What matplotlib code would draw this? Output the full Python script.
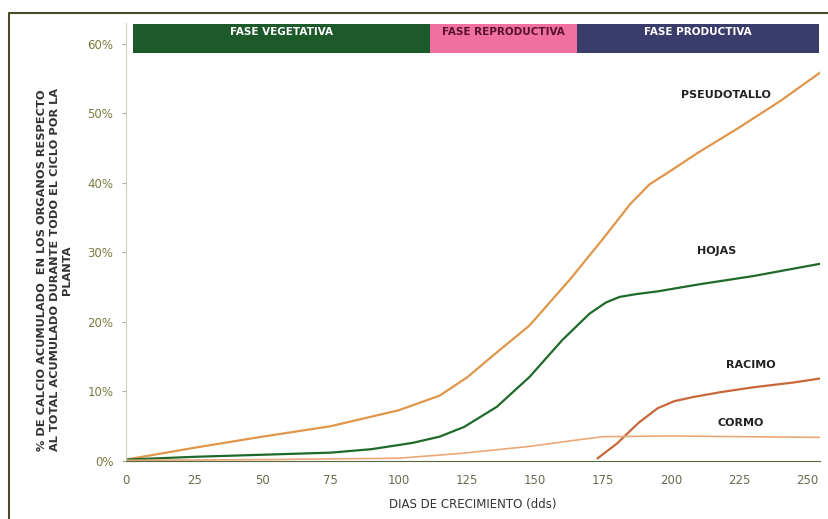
import matplotlib
matplotlib.use('Agg')
import matplotlib.pyplot as plt
from matplotlib.patches import Rectangle
from matplotlib.lines import Line2D

# days of growth (dds) and % calcium accumulated per organ
dias_pseudo = [0, 25, 50, 75, 100, 115, 125, 135, 148, 163, 175, 185, 192, 198, 210, 225, 240, 255]
pseudotallo = [0.2, 1.9, 3.5, 5.0, 7.3, 9.4, 12.0, 15.3, 19.5, 26.2, 32.0, 37.0, 39.8, 41.3, 44.4, 48.0, 51.8, 56.0]

dias_hojas = [0, 25, 50, 75, 90, 105, 115, 124, 136, 148, 160, 170, 176, 181, 187, 195, 210, 230, 255]
hojas = [0.2, 0.6, 0.9, 1.2, 1.7, 2.6, 3.5, 4.9, 7.8, 12.1, 17.4, 21.2, 22.8, 23.6, 24.0, 24.4, 25.4, 26.6, 28.4]

dias_racimo = [173, 180, 188, 195, 201, 208, 218, 230, 245, 255]
racimo = [0.4, 2.5, 5.5, 7.6, 8.6, 9.2, 9.9, 10.6, 11.3, 11.9]

dias_cormo = [0, 50, 100, 123, 148, 165, 175, 200, 225, 255]
cormo = [0.1, 0.2, 0.4, 1.1, 2.1, 3.0, 3.5, 3.6, 3.5, 3.4]

fases = ['FASE VEGETATIVA', 'FASE REPRODUCTIVA', 'FASE PRODUCTIVA']
fase_lims = [2.5, 111.5, 165.5, 254.0]
fase_colores = ['#1d5a2a', '#f070a0', '#3a3c6c']
fase_texto = ['white', '#5a1030', 'white']

xticks = [0, 25, 50, 75, 100, 125, 150, 175, 200, 225, 250]
yticks = [0, 10, 20, 30, 40, 50, 60]

fig = plt.figure(figsize=(8.29, 5.19), dpi=100)
ax = fig.add_axes([126/829, 58/519, (820-126)/829, (461-23)/519])

ax.plot(dias_pseudo, pseudotallo, color='#e0964a', lw=1.6)
ax.plot(dias_hojas, hojas, color='#1f6a2a', lw=1.6)
ax.plot(dias_racimo, racimo, color='#c8683a', lw=1.6)
ax.plot(dias_cormo, cormo, color='#e8a878', lw=1.2)

# phase band on top
for i in range(3):
    ax.add_patch(Rectangle((fase_lims[i], 58.7), fase_lims[i+1]-fase_lims[i], 4.1,
                           color=fase_colores[i], lw=0, clip_on=False))
    ax.text((fase_lims[i]+fase_lims[i+1])/2, 61.7, fases[i], ha='center', va='center',
            fontsize=7.5, fontweight='bold', color=fase_texto[i])

ax.set_xlim(0, 254.5)
ax.set_ylim(0, 63)
ax.set_xticks(xticks)
ax.set_yticks(yticks)
ax.set_yticklabels([f'{v}%' for v in yticks])
ax.tick_params(axis='x', length=0, pad=9, labelsize=8.5, labelcolor='#6a6a50')
ax.tick_params(axis='y', length=3, color='#aaaaaa', pad=6, labelsize=8.5, labelcolor='#7a7a40')
for s in ['top', 'right']:
    ax.spines[s].set_visible(False)
ax.spines['left'].set_color('#cfcfb0')
ax.spines['bottom'].set_color('#5a6a40')

etiquetas = [('PSEUDOTALLO', 220, 52.7), ('HOJAS', 216.5, 30.2), ('RACIMO', 229, 13.8), ('CORMO', 225.5, 5.5)]
for txt, x, y in etiquetas:
    ax.text(x, y, txt, ha='center', va='center', fontsize=8, fontweight='bold', color='#222222')

ax.set_xlabel('DIAS DE CRECIMIENTO (dds)', fontsize=8.5, color='#333333', labelpad=8)
fig.text(0.066, 0.48, '% DE CALCIO ACUMULADO  EN LOS ORGANOS RESPECTO\nAL TOTAL ACUMULADO DURANTE TODO EL CICLO POR LA\nPLANTA',
         rotation=90, ha='center', va='center', fontsize=8.2, fontweight='bold', color='#333333',
         linespacing=1.3)

# outer frame: left and top edges only
fig.lines.append(Line2D([9/829, 9/829, 1], [0, 1-13/519, 1-13/519], transform=fig.transFigure,
                        color='#4a4a2a', lw=1.5))

fig.savefig('out.png', dpi=100)
